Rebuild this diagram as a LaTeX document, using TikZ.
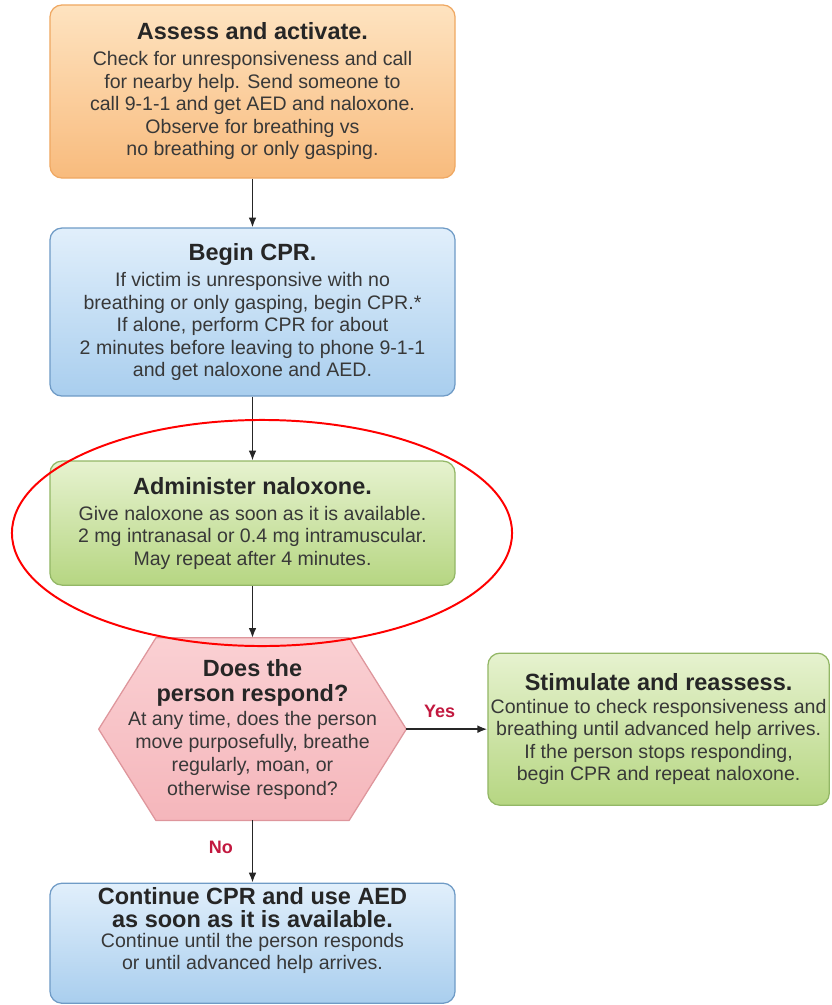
\documentclass[tikz,border=0pt]{standalone}
\usepackage{fontspec}
\setmainfont{Liberation Sans}
\usetikzlibrary{positioning,backgrounds,arrows.meta}

\definecolor{orgtop}{HTML}{FEE3C0}
\definecolor{orgbot}{HTML}{F8BB7D}
\definecolor{orgline}{HTML}{EFA862}
\definecolor{blutop}{HTML}{E1EFFB}
\definecolor{blubot}{HTML}{A9CEEE}
\definecolor{bluline}{HTML}{6F9BC6}
\definecolor{grntop}{HTML}{E6F2CF}
\definecolor{grnbot}{HTML}{B6D682}
\definecolor{grnline}{HTML}{93B766}
\definecolor{pnktop}{HTML}{FAD0D3}
\definecolor{pnkbot}{HTML}{F5B6BB}
\definecolor{pnkline}{HTML}{DE969C}
\definecolor{txt}{HTML}{383838}
\definecolor{lblred}{HTML}{C2183F}

\newcommand{\hd}{\fontsize{16.7}{19}\selectfont\bfseries\color{black!85}}

\tikzset{every node/.style={text=txt, font=\fontsize{13.9}{16}\selectfont}}
\tikzset{every edge/.style={draw=black!85, line width=1.1pt, -{Latex[length=7pt,width=5.5pt]}}}
\tikzset{stepbox/.style={draw, rounded corners=0.3cm, align=center, inner sep=2pt, line width=0.9pt, minimum width=10.125cm}}
\tikzset{orangebox/.style={stepbox, draw=orgline, top color=orgtop, bottom color=orgbot}}
\tikzset{bluebox/.style={stepbox, draw=bluline, top color=blutop, bottom color=blubot}}
\tikzset{greenbox/.style={stepbox, draw=grnline, top color=grntop, bottom color=grnbot}}
\tikzset{hexbox/.style={align=center, inner sep=0pt, minimum width=7.675cm, minimum height=4.55cm}}
\tikzset{hexline/.style={draw=pnkline, top color=pnktop, bottom color=pnkbot, line width=0.9pt, line join=round}}
\tikzset{anslbl/.style={text=lblred, font=\fontsize{12.8}{14}\selectfont\bfseries}}

\begin{document}
\begin{tikzpicture}[x=0.025cm, y=-0.025cm]
  \useasboundingbox (0,0) rectangle (831,1005);

  \node[orangebox, minimum height=4.325cm] (assess) at (252.5,91.5)
    {{\hd Assess and activate.}\\[2.5pt]
     Check for unresponsiveness and call\\
     for nearby help. Send someone to\\
     call 9-1-1 and get AED and naloxone.\\
     Observe for breathing vs\\
     no breathing or only gasping.};
  \node[bluebox, minimum height=4.2cm] (cpr) [node distance=5.5125cm, below of=assess]
    {{\hd Begin CPR.}\\[2.5pt]
     If victim is unresponsive with no\\
     breathing or only gasping, begin CPR.*\\
     If alone, perform CPR for about\\
     2 minutes before leaving to phone 9-1-1\\
     and get naloxone and AED.};
  \node[greenbox, minimum height=3.1cm] (nalox) [node distance=5.275cm, below of=cpr]
    {{\hd Administer naloxone.}\\[2.5pt]
     Give naloxone as soon as it is available.\\
     2 mg intranasal or 0.4 mg intramuscular.\\
     May repeat after 4 minutes.};
  \node[hexbox] (resp) [node distance=5.15cm, below of=nalox]
    {{\hd Does the}\\[2.2pt]
     {\hd person respond?}\\[0.8pt]
     At any time, does the person\\[0.5pt]
     move purposefully, breathe\\[0.5pt]
     regularly, moan, or\\[0.5pt]
     otherwise respond?};
  \node[greenbox, minimum width=8.525cm, minimum height=3.8cm] (stim) [node distance=10.15cm, right of=resp]
    {{\hd Stimulate and reassess.}\\[0.4pt]
     Continue to check responsiveness and\\
     breathing until advanced help arrives.\\
     If the person stops responding,\\
     begin CPR and repeat naloxone.};
  \node[bluebox, minimum height=3cm, text depth=21pt] (cont) [node distance=5.35cm, below of=resp]
    {{\hd Continue CPR and use AED}\\[0.6pt]
     {\hd as soon as it is available.}\\[-2pt]
     Continue until the person responds\\
     or until advanced help arrives.};

  % hexagon behind the question
  \begin{scope}[on background layer]
    \draw[hexline] ([xshift=1.43cm]resp.north west) -- ([xshift=-1.43cm]resp.north east)
      -- (resp.east) -- ([xshift=-1.43cm]resp.south east)
      -- ([xshift=1.43cm]resp.south west) -- (resp.west) -- cycle;
  \end{scope}

  \path (assess) edge (cpr);
  \path (cpr) edge (nalox);
  \path (nalox) edge (resp);
  \path (resp) edge node[anslbl, pos=0.41, above=4.5pt] {Yes} (stim);
  \path (resp) edge node[anslbl, pos=0.44, left=10pt] {No} (cont);

  \draw[red, line width=1.4pt] (262,533) ellipse [x radius=6.25cm, y radius=2.825cm];
\end{tikzpicture}
\end{document}
